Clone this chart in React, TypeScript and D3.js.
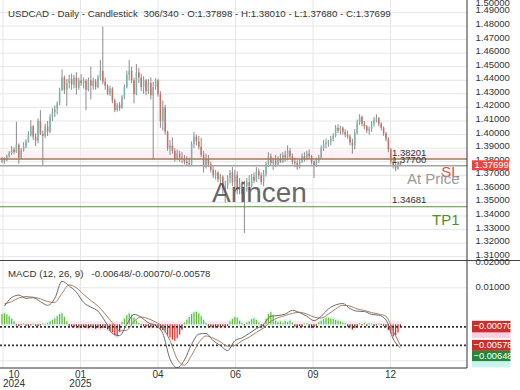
import React from 'react';
import * as d3 from 'd3';

// ---------- DATA ----------
const opens = [
  1.3805, 1.3822, 1.3810, 1.3840, 1.3865, 1.3890, 1.3872, 1.3925, 1.3830, 1.3885,
  1.3915, 1.3950, 1.3995, 1.4060, 1.3985, 1.3955, 1.4100, 1.4005, 1.3990, 1.4060,
  1.4020, 1.4130, 1.4165, 1.4190, 1.4230, 1.4330, 1.4420, 1.4330, 1.4380, 1.4410,
  1.4370, 1.4420, 1.4345, 1.4400, 1.4380, 1.4395, 1.4330, 1.4400, 1.4360, 1.4395,
  1.4350, 1.4420, 1.4470, 1.4390, 1.4360, 1.4300, 1.4340, 1.4250, 1.4180, 1.4220,
  1.4195, 1.4280, 1.4350, 1.4440, 1.4470, 1.4400, 1.4300, 1.4460, 1.4420, 1.4350,
  1.4400, 1.4320, 1.4380, 1.4290, 1.4350, 1.4400, 1.4300, 1.4100, 1.4200, 1.4020,
  1.3900, 1.3920, 1.3880, 1.3820, 1.3860, 1.3830, 1.3820, 1.3800, 1.3790, 1.3780,
  1.3930, 1.3985, 1.3950, 1.3910, 1.3850, 1.3760, 1.3820, 1.3780, 1.3740, 1.3700,
  1.3720, 1.3670, 1.3690, 1.3600, 1.3620, 1.3680, 1.3720, 1.3650, 1.3700, 1.3600,
  1.3640, 1.3560, 1.3620, 1.3650, 1.3620, 1.3690, 1.3660, 1.3730, 1.3700, 1.3650,
  1.3710, 1.3780, 1.3840, 1.3790, 1.3810, 1.3780, 1.3820, 1.3800, 1.3850, 1.3830,
  1.3880, 1.3840, 1.3800, 1.3790, 1.3760, 1.3800, 1.3840, 1.3820, 1.3860, 1.3840,
  1.3800, 1.3770, 1.3810, 1.3830, 1.3900, 1.3930, 1.3940, 1.3950, 1.3970, 1.3990,
  1.4050, 1.4030, 1.4050, 1.4020, 1.4000, 1.3985, 1.3940, 1.3920, 1.4010, 1.4090,
  1.4130, 1.4080, 1.4060, 1.4030, 1.4040, 1.4080, 1.4110, 1.4120, 1.4080, 1.4050,
  1.4010, 1.3970, 1.3890, 1.3800, 1.3770, 1.3750, 1.37898,
];
const highs = [
  1.3835, 1.3832, 1.3852, 1.3878, 1.3915, 1.3905, 1.4095, 1.3935, 1.3900, 1.3945,
  1.3965, 1.4025, 1.4105, 1.4070, 1.4010, 1.4120, 1.4180, 1.4030, 1.4080, 1.4100,
  1.4150, 1.4195, 1.4215, 1.4245, 1.4345, 1.4480, 1.4435, 1.4410, 1.4440, 1.4450,
  1.4440, 1.4460, 1.4420, 1.4445, 1.4420, 1.4410, 1.4420, 1.4500, 1.4420, 1.4410,
  1.4440, 1.4550, 1.4795, 1.4420, 1.4370, 1.4360, 1.4350, 1.4265, 1.4235, 1.4240,
  1.4290, 1.4370, 1.4470, 1.4550, 1.4500, 1.4420, 1.4520, 1.4490, 1.4450, 1.4430,
  1.4410, 1.4410, 1.4420, 1.4390, 1.4415, 1.4410, 1.4320, 1.4250, 1.4220, 1.4030,
  1.3960, 1.3980, 1.3900, 1.3890, 1.3880, 1.3870, 1.3850, 1.3840, 1.3830, 1.3950,
  1.4020, 1.4000, 1.3990, 1.3975, 1.3880, 1.3860, 1.3850, 1.3800, 1.3770, 1.3740,
  1.3730, 1.3710, 1.3700, 1.3660, 1.3700, 1.3740, 1.3760, 1.3740, 1.3730, 1.3680,
  1.3660, 1.3660, 1.3680, 1.3700, 1.3710, 1.3720, 1.3760, 1.3750, 1.3720, 1.3740,
  1.3800, 1.3870, 1.3860, 1.3830, 1.3850, 1.3840, 1.3860, 1.3870, 1.3880, 1.3920,
  1.3900, 1.3860, 1.3830, 1.3810, 1.3820, 1.3860, 1.3870, 1.3880, 1.3890, 1.3850,
  1.3810, 1.3830, 1.3850, 1.3920, 1.3960, 1.3970, 1.3960, 1.3990, 1.4010, 1.4070,
  1.4075, 1.4065, 1.4060, 1.4040, 1.4030, 1.4000, 1.3970, 1.4040, 1.4110, 1.4150,
  1.4140, 1.4100, 1.4070, 1.4060, 1.4100, 1.4130, 1.4150, 1.4130, 1.4090, 1.4060,
  1.4020, 1.3980, 1.3900, 1.3820, 1.3790, 1.3800, 1.38010,
];
const lows = [
  1.3790, 1.3785, 1.3805, 1.3830, 1.3850, 1.3855, 1.3865, 1.3785, 1.3820, 1.3875,
  1.3900, 1.3940, 1.3985, 1.3960, 1.3915, 1.3935, 1.3995, 1.3775, 1.3975, 1.3990,
  1.4010, 1.4100, 1.4130, 1.4150, 1.4215, 1.4320, 1.4300, 1.4210, 1.4340, 1.4330,
  1.4340, 1.4295, 1.4330, 1.4360, 1.4340, 1.4180, 1.4320, 1.4260, 1.4330, 1.4330,
  1.4340, 1.4400, 1.4370, 1.4330, 1.4290, 1.4285, 1.4230, 1.4165, 1.4170, 1.4175,
  1.4190, 1.4260, 1.4340, 1.4400, 1.4380, 1.4230, 1.4290, 1.4380, 1.4320, 1.4300,
  1.4290, 1.4300, 1.4260, 1.3815, 1.4330, 1.4280, 1.4050, 1.4030, 1.4000, 1.3880,
  1.3850, 1.3860, 1.3800, 1.3810, 1.3800, 1.3790, 1.3780, 1.3770, 1.3765, 1.3775,
  1.3900, 1.3920, 1.3890, 1.3835, 1.3720, 1.3750, 1.3760, 1.3720, 1.3680, 1.3670,
  1.3650, 1.3640, 1.3560, 1.3500, 1.3600, 1.3640, 1.3620, 1.3600, 1.3560, 1.3560,
  1.3500, 1.3275, 1.3580, 1.3590, 1.3610, 1.3640, 1.3650, 1.3670, 1.3630, 1.3620,
  1.3690, 1.3760, 1.3770, 1.3740, 1.3760, 1.3770, 1.3790, 1.3790, 1.3800, 1.3810,
  1.3820, 1.3780, 1.3760, 1.3740, 1.3750, 1.3790, 1.3800, 1.3810, 1.3820, 1.3780,
  1.3680, 1.3760, 1.3790, 1.3820, 1.3880, 1.3900, 1.3910, 1.3920, 1.3950, 1.3980,
  1.4010, 1.4000, 1.4000, 1.3980, 1.3970, 1.3920, 1.3860, 1.3890, 1.4000, 1.4070,
  1.4060, 1.4040, 1.4010, 1.4000, 1.4020, 1.4060, 1.4090, 1.4060, 1.4030, 1.3990,
  1.3950, 1.3870, 1.3780, 1.3750, 1.3730, 1.3740, 1.37680,
];
const closes = [
  1.3822, 1.3810, 1.3840, 1.3865, 1.3890, 1.3872, 1.3925, 1.3830, 1.3885, 1.3915,
  1.3950, 1.3995, 1.4060, 1.3985, 1.3955, 1.4100, 1.4005, 1.3990, 1.4060, 1.4020,
  1.4130, 1.4165, 1.4190, 1.4230, 1.4330, 1.4420, 1.4330, 1.4380, 1.4410, 1.4370,
  1.4420, 1.4345, 1.4400, 1.4380, 1.4395, 1.4330, 1.4400, 1.4360, 1.4395, 1.4350,
  1.4420, 1.4470, 1.4390, 1.4360, 1.4300, 1.4340, 1.4250, 1.4180, 1.4220, 1.4195,
  1.4280, 1.4350, 1.4440, 1.4470, 1.4400, 1.4300, 1.4460, 1.4420, 1.4350, 1.4400,
  1.4320, 1.4380, 1.4290, 1.4350, 1.4400, 1.4300, 1.4100, 1.4200, 1.4020, 1.3900,
  1.3920, 1.3880, 1.3820, 1.3860, 1.3830, 1.3820, 1.3800, 1.3790, 1.3780, 1.3930,
  1.3985, 1.3950, 1.3910, 1.3850, 1.3760, 1.3820, 1.3780, 1.3740, 1.3700, 1.3720,
  1.3670, 1.3690, 1.3600, 1.3620, 1.3680, 1.3720, 1.3650, 1.3700, 1.3600, 1.3640,
  1.3560, 1.3620, 1.3650, 1.3620, 1.3690, 1.3660, 1.3730, 1.3700, 1.3650, 1.3710,
  1.3780, 1.3840, 1.3790, 1.3810, 1.3780, 1.3820, 1.3800, 1.3850, 1.3830, 1.3880,
  1.3840, 1.3800, 1.3790, 1.3760, 1.3800, 1.3840, 1.3820, 1.3860, 1.3840, 1.3800,
  1.3770, 1.3810, 1.3830, 1.3900, 1.3930, 1.3940, 1.3950, 1.3970, 1.3990, 1.4050,
  1.4030, 1.4050, 1.4020, 1.4000, 1.3985, 1.3940, 1.3920, 1.4010, 1.4090, 1.4130,
  1.4080, 1.4060, 1.4030, 1.4040, 1.4080, 1.4110, 1.4120, 1.4080, 1.4050, 1.4010,
  1.3970, 1.3890, 1.3800, 1.3770, 1.3750, 1.3790, 1.37699,
];

// MACD histogram, one value per bar
const histogram = [
  0.0028, 0.0030, 0.0027, 0.0022, 0.0015, 0.0008,
  -0.0003, -0.0005, -0.0002, 0.0002, -0.0004, -0.0006, -0.0003, 0.0002, -0.0004, -0.0005, -0.0003, 0.0002, 0.0001,
  0.0004, 0.0008, 0.0012, 0.0016, 0.0022, 0.0028, 0.0030, 0.0020, 0.0008,
  -0.0004, -0.0006, -0.0008, -0.0007, -0.0009, -0.0010, -0.0008, -0.0009, -0.0011, -0.0008, -0.0010, -0.0012, -0.0009, -0.0011, -0.0010,
  -0.0010, -0.0014, -0.0018, -0.0022, -0.0030, -0.0033, -0.0020,
  0.0006, 0.0015, 0.0025, 0.0030, 0.0026, 0.0018, 0.0010, 0.0004,
  -0.0003, -0.0005, -0.0007, -0.0006, -0.0008, -0.0006, -0.0005,
  -0.0008, -0.0012, -0.0016, -0.0022, -0.0030, -0.0036, -0.0042, -0.0045, -0.0038, -0.0028, -0.0015,
  0.0005, 0.0012, 0.0020, 0.0028, 0.0033, 0.0034, 0.0030, 0.0022, 0.0012, 0.0004,
  -0.0004, -0.0008, -0.0006, -0.0009, -0.0007, -0.0008, -0.0006, -0.0008, -0.0004,
  0.0008, 0.0015, 0.0020, 0.0018, 0.0010,
  0.0004, -0.0003, 0.0005,
  0.0008, 0.0014, 0.0016, 0.0012, 0.0005,
  -0.0004, -0.0006,
  0.0015, 0.0028, 0.0033, 0.0025,
  0.0010, 0.0006, 0.0008, 0.0004, 0.0009, 0.0006, 0.0010, 0.0005,
  -0.0006, -0.0008, -0.0005, -0.0007, 0.0002, 0.0003,
  -0.0005, -0.0010, -0.0008, -0.0004,
  0.0006, 0.0010, 0.0014, 0.0017, 0.0018, 0.0016, 0.0014, 0.0012, 0.0010, 0.0008, 0.0005, 0.0003,
  -0.0006, -0.0008, -0.0014, -0.0010, -0.0005,
  0.0003, -0.0003, 0.0004, -0.0004, 0.0003, 0.0002, -0.0005, -0.0003, 0.0002, -0.0002, -0.0004,
  -0.0008, -0.0015, -0.0024, -0.0033, -0.0030, -0.0022, -0.0007,
];

// MACD and signal lines, sampled every 3rd bar (bars 1, 4, 7, ... 166)
const macdLine = [
  0.0050, 0.0073, 0.0080, 0.0071, 0.0073, 0.0062, 0.0052, 0.0071, 0.0118, 0.0105,
  0.0088, 0.0060, 0.0047, 0.0036, 0.0008, -0.0025, -0.0031, 0.0000, 0.0027, 0.0019,
  0.0004, -0.0003, -0.0025, -0.0095, -0.0119, -0.0098, -0.0055, -0.0027, -0.0025, -0.0045,
  -0.0058, -0.0072, -0.0045, -0.0037, -0.0025, -0.0012, 0.0000, 0.0022, 0.0024, 0.0028,
  0.0038, 0.0032, 0.0022, 0.0010, 0.0022, 0.0042, 0.0053, 0.0057, 0.0043, 0.0036,
  0.0035, 0.0027, 0.0025, 0.0012, -0.0040, -0.00648,
];
const signalLine = [
  0.0056, 0.0062, 0.0072, 0.0076, 0.0074, 0.0070, 0.0062, 0.0060, 0.0085, 0.0108,
  0.0100, 0.0082, 0.0065, 0.0050, 0.0028, 0.0004, -0.0018, -0.0016, 0.0008, 0.0020,
  0.0015, 0.0006, -0.0008, -0.0045, -0.0095, -0.0112, -0.0085, -0.0050, -0.0032, -0.0038,
  -0.0048, -0.0060, -0.0058, -0.0045, -0.0035, -0.0022, -0.0010, 0.0008, 0.0018, 0.0024,
  0.0030, 0.0033, 0.0028, 0.0020, 0.0017, 0.0028, 0.0042, 0.0052, 0.0050, 0.0042,
  0.0038, 0.0032, 0.0028, 0.0022, -0.0018, -0.00578,
];
const sampleStep = 3;
const sampleStart = 1;

const priceTicks = [1.31, 1.32, 1.33, 1.34, 1.35, 1.36, 1.37, 1.38, 1.39, 1.40,
  1.41, 1.42, 1.43, 1.44, 1.45, 1.46, 1.47, 1.48, 1.49, 1.50];
const macdTicks = [0.02, 0.01];
const macdGrid = [0.01, -0.01];

const timeTickBars = [0.4, 32.7, 65, 97.3, 129.6, 161.9];
const timeTickLabels = ['10', '01', '04', '06', '09', '12'];
const timeTickYears = ['2024', '2025', '', '', '', ''];

const slLevel = 1.38201;
const atPriceLevel = 1.377;
const tpLevel = 1.34681;
const lastPrice = 1.37699;
const macdValue = -0.00648;
const histValue = -0.0007;
const signalValue = -0.00578;

const title1 = 'USDCAD - Daily - Candlestick';
const title2 = '306/340 - O:1.37898 - H:1.38010 - L:1.37680 - C:1.37699';
const macdTitle1 = 'MACD (12, 26, 9)';
const macdTitle2 = '-0.00648/-0.00070/-0.00578';

const FONT = '"Liberation Sans", Arial, sans-serif';

export default function App() {
  const W = 520, H = 390;
  const plotRight = 467;
  const mainBottom = 260.5;
  const macdTop = 260.5;
  const macdBottom = 368;

  const x = d3.scaleLinear().domain([0, 166]).range([2, 2 + 166 * 2.4]);
  const y = d3.scaleLinear().domain([1.31, 1.41]).range([256.7, 121]);
  const ym = d3.scaleLinear().domain([-0.01, 0.01]).range([360.8, 287.8]);

  const n = closes.length;
  const bars = d3.range(n).map(i => ({ i, o: opens[i], h: highs[i], l: lows[i], c: closes[i] }));

  const lineGen = d3.line<number>()
    .x((_, k) => x(sampleStart + k * sampleStep))
    .y(v => ym(v))
    .curve(d3.curveMonotoneX);

  const fmt = d3.format('.5f');
  const z0 = ym(0);

  return (
    <svg width={W} height={H} style={{ position: 'absolute', left: 0, top: 0, background: '#fff' }}
      fontFamily={FONT}>
      <defs>
        <clipPath id="mainClip"><rect x={0} y={0} width={plotRight} height={mainBottom} /></clipPath>
        <clipPath id="macdClip"><rect x={0} y={macdTop} width={plotRight} height={macdBottom - macdTop} /></clipPath>
      </defs>
      <rect x={0} y={0} width={W} height={H} fill="#fff" />

      {/* grid: main */}
      <g clipPath="url(#mainClip)">
        {priceTicks.map(p => (
          <line key={p} x1={0} x2={plotRight} y1={y(p)} y2={y(p)} stroke="#e6e6e6" strokeWidth={1} />
        ))}
        {timeTickBars.map(b => (
          <line key={b} x1={x(b)} x2={x(b)} y1={0} y2={mainBottom} stroke="#e6e6e6" strokeWidth={1} />
        ))}
        {/* faint SL zone */}
        <rect x={0} width={plotRight} y={y(1.3886)} height={y(slLevel) - y(1.3886)} fill="#fde8f0" opacity={0.6} />

        {/* candles */}
        {bars.map(b => {
          const up = b.c >= b.o;
          const top = y(Math.max(b.o, b.c));
          const bot = y(Math.min(b.o, b.c));
          return (
            <g key={b.i}>
              <line x1={x(b.i)} x2={x(b.i)} y1={y(b.h)} y2={y(b.l)} stroke="#6e6e6e" strokeWidth={0.8} />
              <rect x={x(b.i) - 0.75} width={1.5} y={top} height={Math.max(1, bot - top)}
                fill={up ? '#77b8ae' : '#cc6e66'} />
            </g>
          );
        })}

        {/* level lines */}
        <line x1={0} x2={plotRight} y1={y(slLevel)} y2={y(slLevel)} stroke="#a5795c" strokeWidth={1.5} />
        <line x1={0} x2={plotRight} y1={y(atPriceLevel)} y2={y(atPriceLevel)} stroke="#a3a3a3" strokeWidth={1.5} />
        <line x1={0} x2={plotRight} y1={y(tpLevel)} y2={y(tpLevel)} stroke="#5e8f3e" strokeWidth={1.2} />
      </g>

      {/* level labels */}
      <text x={392} y={y(slLevel) - 3} fontSize={9.5} fill="#333">{fmt(slLevel)}</text>
      <text x={392} y={y(atPriceLevel) - 3} fontSize={9.5} fill="#333">{fmt(atPriceLevel)}</text>
      <text x={392} y={y(tpLevel) - 3.5} fontSize={9.5} fill="#333">{fmt(tpLevel)}</text>
      <text x={459.5} y={176.7} fontSize={15} fill="#d9534f" textAnchor="end">SL</text>
      <text x={459.5} y={183.5} fontSize={15} fill="#9a9a9a" textAnchor="end">At Price</text>
      <text x={459.5} y={225} fontSize={15} fill="#4f8f2f" textAnchor="end">TP1</text>

      {/* watermark */}
      <text x={212} y={202} fontSize={28} fill="#444" opacity={0.8}>Arincen</text>

      {/* title */}
      <text x={8} y={16.5} fontSize={9.7} fill="#333">{title1}</text>
      <text x={143.5} y={16.5} fontSize={9.7} fill="#333">{title2}</text>

      {/* MACD panel */}
      <g clipPath="url(#macdClip)">
        {macdGrid.map(v => (
          <line key={v} x1={0} x2={plotRight} y1={ym(v)} y2={ym(v)} stroke="#e6e6e6" strokeWidth={1} />
        ))}
        {timeTickBars.map(b => (
          <line key={b} x1={x(b)} x2={x(b)} y1={macdTop} y2={macdBottom} stroke="#e6e6e6" strokeWidth={1} />
        ))}
        {histogram.map((h, i) => {
          const yv = ym(h);
          const t = Math.min(z0, yv), bt = Math.max(z0, yv);
          return (
            <rect key={'bg' + i} x={x(i) - 1.2} width={2.4} y={h >= 0 ? t - 2 : t - 3} height={bt - t + 5}
              fill={h >= 0 ? '#c9f3ea' : '#fbd3e3'} opacity={0.55} />
          );
        })}
        {histogram.map((h, i) => {
          const yv = ym(h);
          const t = Math.min(z0, yv), bt = Math.max(z0, yv);
          const col = h >= 0 ? '#66bb2e' : (h < -0.002 ? '#e2322a' : '#7a2e1a');
          return <rect key={'h' + i} x={x(i) - 0.6} width={1.2} y={t} height={Math.max(0.8, bt - t)} fill={col} />;
        })}
        <line x1={0} x2={plotRight} y1={ym(histValue)} y2={ym(histValue)} stroke="#333" strokeWidth={1.6} strokeDasharray="2,2" />
        <line x1={0} x2={plotRight} y1={ym(signalValue)} y2={ym(signalValue)} stroke="#333" strokeWidth={1.6} strokeDasharray="2,2" />
        <path d={lineGen(signalLine) || ''} fill="none" stroke="#a57f62" strokeWidth={1} />
        <path d={lineGen(macdLine) || ''} fill="none" stroke="#6b6b6b" strokeWidth={1} />
      </g>
      <text x={8} y={276.5} fontSize={9.7} fill="#333">{macdTitle1}</text>
      <text x={91.5} y={276.5} fontSize={9.6} fill="#333">{macdTitle2}</text>

      {/* frame lines */}
      <line x1={0} x2={W} y1={mainBottom} y2={mainBottom} stroke="#444" strokeWidth={1} />
      <line x1={0} x2={plotRight} y1={macdBottom} y2={macdBottom} stroke="#333" strokeWidth={1} />
      <line x1={plotRight} x2={plotRight} y1={0} y2={macdBottom} stroke="#333" strokeWidth={1} />

      {/* right axis: price */}
      {priceTicks.map(p => (
        <text key={p} x={475.5} y={Math.max(3, y(p) - 1.5)} fontSize={9.5} fill="#333" dominantBaseline="middle">{fmt(p)}</text>
      ))}
      <rect x={472} y={y(lastPrice) - 5.5} width={37} height={10} fill="#e8463c" />
      <text x={474.5} y={y(lastPrice) - 0.5} fontSize={9.5} fill="#fff" dominantBaseline="middle">{fmt(lastPrice)}</text>

      {/* right axis: macd */}
      {macdTicks.map(v => (
        <text key={v} x={475.5} y={Math.max(macdTop + 1.5, ym(v))} fontSize={9.5} fill="#333" dominantBaseline="middle">{fmt(v)}</text>
      ))}
      <rect x={472} y={ym(histValue) + 5} width={38.5} height={6} fill="#fbd0e2" />
      <rect x={472} y={ym(histValue) - 6} width={38.5} height={11.5} fill="#c9302c" />
      <text x={473.5} y={ym(histValue)} fontSize={9.3} fill="#fff" dominantBaseline="middle">{fmt(histValue)}</text>
      <rect x={472} y={ym(signalValue) - 5.5} width={38.5} height={11} fill="#c9302c" />
      <text x={473.5} y={ym(signalValue)} fontSize={9.3} fill="#fff" dominantBaseline="middle">{fmt(signalValue)}</text>
      <rect x={472} y={ym(signalValue) + 5.5} width={38.5} height={10.5} fill="#23883a" />
      <rect x={472} y={ym(signalValue) + 16} width={38.5} height={6} fill="#c8f5ee" />
      <text x={473.5} y={ym(signalValue) + 10.8} fontSize={9.3} fill="#fff" dominantBaseline="middle">{fmt(macdValue)}</text>

      {/* x axis */}
      {timeTickBars.map((b, k) => {
        const cx = Math.max(14, x(b));
        return (
          <g key={b}>
            <text x={cx} y={377.5} fontSize={10} fill="#333" textAnchor="middle">{timeTickLabels[k]}</text>
            {timeTickYears[k] && (
              <text x={cx} y={386.5} fontSize={10} fill="#333" textAnchor="middle">{timeTickYears[k]}</text>
            )}
          </g>
        );
      })}
    </svg>
  );
}
